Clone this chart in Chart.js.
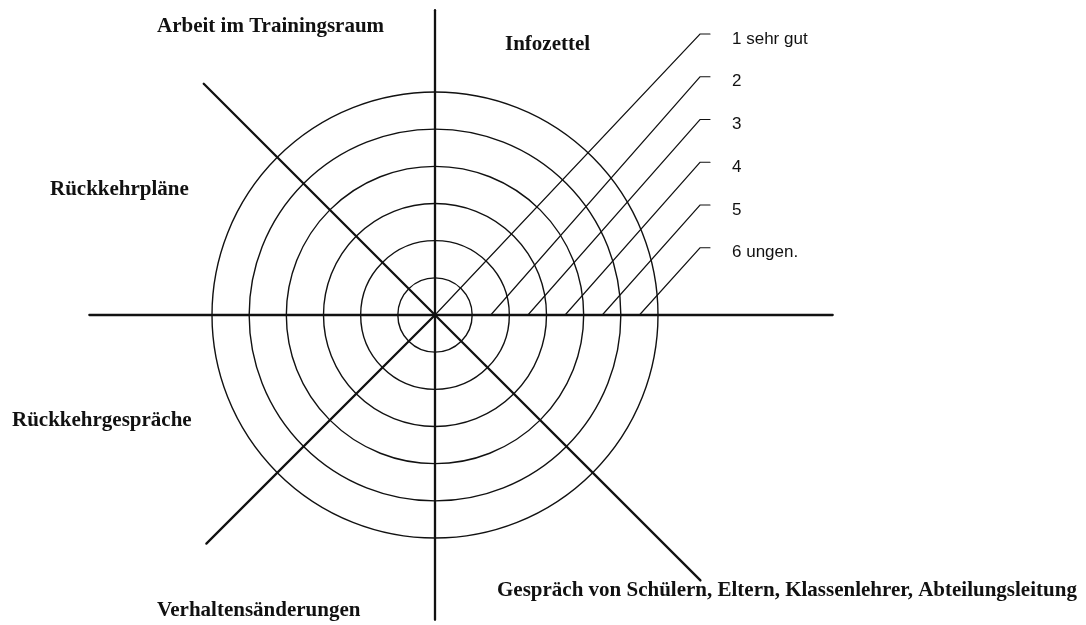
<!DOCTYPE html>
<html lang="de">
<head>
<meta charset="utf-8">
<title>Trainingsraum - Bewertungsnetz</title>
<script src="https://cdn.jsdelivr.net/npm/chart.js@4.4.1/dist/chart.umd.min.js"></script>
<style>
  html, body { margin: 0; padding: 0; background: #fff; }
  #wrap { position: relative; width: 1086px; height: 625px; }
</style>
</head>
<body>
<div id="wrap"><canvas id="netz"></canvas></div>
<script>
// Felder im Netz
const kategorien = ['Arbeit im Trainingsraum', 'Infozettel', 'Rückkehrpläne', 'Rückkehrgespräche',
    'Verhaltensänderungen', 'Gespräch von Schülern, Eltern, Klassenlehrer, Abteilungsleitung'];
// Notenskala, von innen nach aussen
const noten = ['1 sehr gut', '2', '3', '4', '5', '6 ungen.'];
const ringe = [1, 2, 3, 4, 5, 6];
// Speichen im Uhrzeigersinn ab oben
const speichen = ['N', 'NO', 'O', 'SO', 'S', 'SW', 'W', 'NW'];

window.onload = function() {
    // Layout (nur Darstellung)
    const spreichweite = [8.2, 0, 10.7, 10.1, 8.2, 8.7, 9.3, 8.8];  // Länge der Speichen in Ringeinheiten
    const textPos = [[-278, -288], [70, -270], [-385, -125], [-423, 106], [-278, 296], [62, 276]];

    const netzPlugin = {
        id: 'netz',
        afterDraw(chart) {
            const r = chart.scales.r;
            const ctx = chart.ctx;
            const einheit = r.getDistanceFromCenterForValue(1) - r.getDistanceFromCenterForValue(0);
            const cx = r.xCenter, cy = r.yCenter;
            ctx.save();
            ctx.strokeStyle = '#111';
            ctx.lineCap = 'round';

            // Speichen
            ctx.lineWidth = 2.3;
            speichen.forEach((s, i) => {
                if (!spreichweite[i]) return;
                const p = r.getPointPosition(i, r.getDistanceFromCenterForValue(spreichweite[i]));
                ctx.beginPath();
                ctx.moveTo(cx, cy);
                ctx.lineTo(p.x, p.y);
                ctx.stroke();
            });

            // Hinweislinien zur Notenskala
            ctx.lineWidth = 1.2;
            ctx.fillStyle = '#111';
            ctx.font = '17px "Liberation Sans", Arial, sans-serif';
            ctx.textBaseline = 'middle';
            ctx.textAlign = 'left';
            noten.forEach((n, i) => {
                const start = i === 0 ? 0 : ringe[i] - 0.5;
                const x0 = cx + start * einheit;
                const x1 = cx + 7.13 * einheit;
                const y1 = cy - (7.56 - i * 1.15) * einheit;
                ctx.beginPath();
                ctx.moveTo(x0, cy);
                ctx.lineTo(x1, y1);
                ctx.lineTo(x1 + 10, y1);
                ctx.stroke();
                ctx.fillText(n, x1 + 32, y1 + 5);
            });

            // Feldbeschriftungen
            ctx.font = 'bold 21px "Liberation Serif", "Times New Roman", serif';
            kategorien.forEach((k, i) => {
                ctx.fillText(k, cx + textPos[i][0], cy + textPos[i][1]);
            });
            ctx.restore();
        }
    };

    const ctx = document.getElementById('netz').getContext('2d');
    new Chart(ctx, {
        type: 'radar',
        data: {
            labels: speichen,
            datasets: []
        },
        options: {
            responsive: true,
            maintainAspectRatio: false,
            animation: false,
            layout: { padding: { left: 212, right: 428, top: 92, bottom: 87 } },
            plugins: {
                legend: { display: false },
                tooltip: { enabled: false }
            },
            scales: {
                r: {
                    min: 0,
                    max: ringe[ringe.length - 1],
                    ticks: { display: false, stepSize: 1 },
                    grid: { circular: true, color: '#111', lineWidth: 1.4 },
                    angleLines: { display: false },
                    pointLabels: { display: false }
                }
            }
        },
        plugins: [netzPlugin]
    });
};
</script>
</body>
</html>
